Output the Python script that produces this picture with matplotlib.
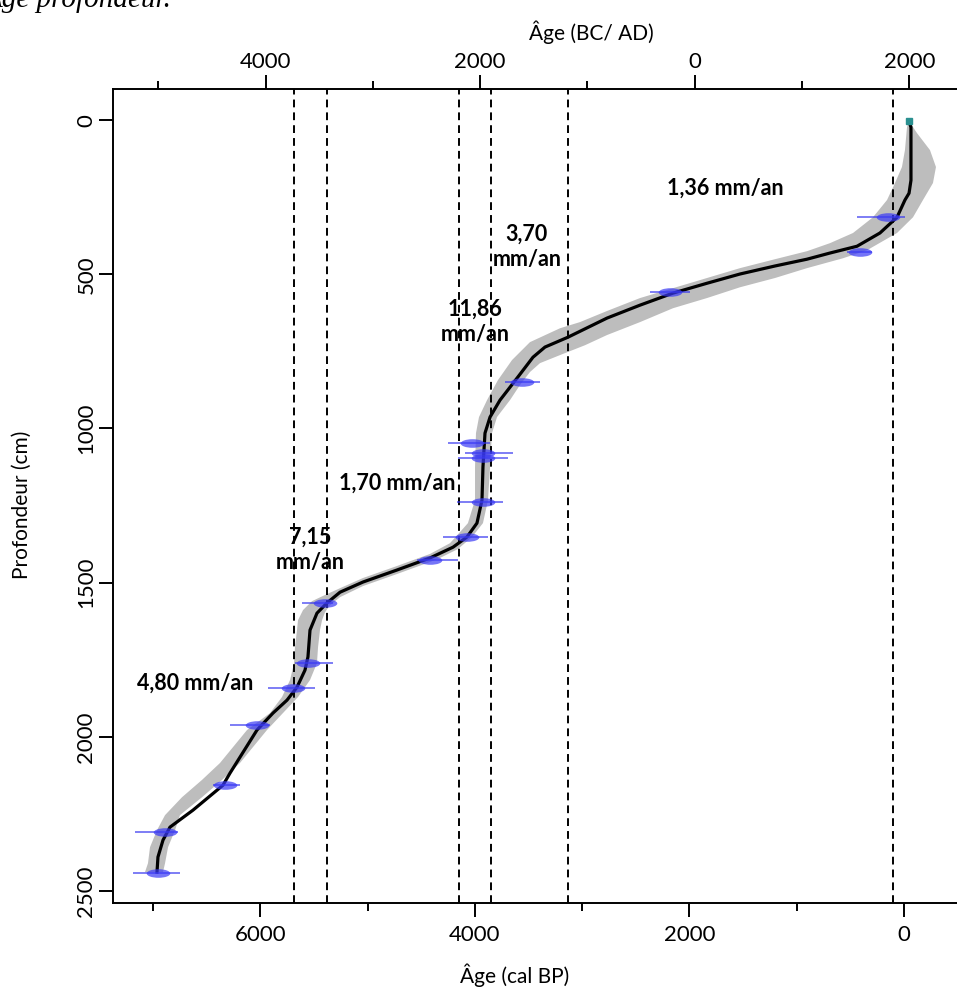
import matplotlib
matplotlib.use('Agg')
import matplotlib.pyplot as plt
from matplotlib.path import Path

plt.rcParams['font.family'] = ['Lato', 'DejaVu Sans']

# age-depth model: mean curve (cal BP / cm)
mean_age = [-47, -65, -65, -47, -9, 65, 224, 438, 690, 904, 1202, 1528, 1836, 2153, 2460,
            2768, 3132, 3346, 3458, 3607, 3765, 3858, 3905, 3924, 3933, 3980, 4073, 4203,
            4418, 4725, 5042, 5256, 5378, 5471, 5536, 5555, 5583, 5657, 5750, 5881, 6030,
            6282, 6347, 6627, 6841, 6906, 6953, 6962]
mean_depth = [3, 23, 195, 237, 259, 315, 366, 409, 431, 451, 473, 499, 529, 561, 600,
              642, 704, 736, 769, 837, 908, 963, 1015, 1125, 1232, 1307, 1352, 1385,
              1420, 1459, 1498, 1531, 1566, 1599, 1654, 1741, 1784, 1839, 1881, 1923, 1978,
              2118, 2157, 2238, 2293, 2335, 2390, 2439]

# envelope: old (upper-left) edge and young (lower-right) edge
old_age = [-47, -28, -9, 19, 84, 158, 289, 475, 690, 904, 1202, 1528, 1836, 2153, 2460,
           2768, 3020, 3206, 3486, 3653, 3784, 3886, 3961, 3989, 3998, 3998, 4064, 4138,
           4231, 4418, 4725, 5042, 5256, 5396, 5517, 5601, 5648, 5657, 5676, 5685, 5722,
           5797, 5909, 6123, 6375, 6543, 6729, 6887, 6962, 7027, 7046, 7074]
old_depth = [3, 23, 97, 152, 204, 259, 315, 366, 399, 425, 451, 480, 512, 545, 577,
             619, 655, 675, 720, 778, 843, 908, 963, 1015, 1125, 1232, 1307, 1336,
             1372, 1407, 1446, 1485, 1518, 1540, 1560, 1589, 1622, 1654, 1709, 1761, 1816,
             1871, 1923, 1978, 2085, 2140, 2196, 2254, 2303, 2358, 2410, 2439]
young_age = [-47, -121, -242, -298, -270, -177, -84, 65, 345, 569, 904, 1202, 1528, 1836,
             2153, 2460, 2768, 2973, 3206, 3392, 3486, 3579, 3672, 3793, 3840, 3858, 3877,
             3924, 4026, 4157, 4325, 4418, 4725, 5042, 5256, 5349, 5396, 5424, 5443, 5461,
             5471, 5536, 5648, 5788, 5937, 6189, 6356, 6543, 6748, 6794, 6859, 6887, 6906]
young_depth = [3, 42, 97, 152, 204, 259, 315, 366, 422, 448, 480, 512, 542, 577,
               610, 655, 697, 730, 762, 788, 817, 859, 908, 963, 1015, 1125, 1232,
               1307, 1352, 1391, 1420, 1433, 1472, 1511, 1547, 1573, 1596, 1622, 1654, 1709,
               1761, 1816, 1871, 1923, 1978, 2085, 2140, 2196, 2254, 2303, 2358, 2410, 2439]

# dated levels (calibrated median + range)
date_age = [150, 410, 2180, 3560, 4026, 3924, 3924, 3924, 4073, 4418,
            5396, 5555, 5695, 6030, 6328, 6887, 6953]
date_depth = [315, 428, 558, 850, 1047, 1080, 1096, 1239, 1352, 1427,
              1566, 1761, 1842, 1962, 2157, 2309, 2442]
date_lo = [-9, 298, 1994, 3392, 3858, 3644, 3691, 3737, 3877, 4157,
           5322, 5322, 5490, 5909, 6189, 6766, 6748]
date_hi = [438, 531, 2367, 3719, 4250, 4092, 4157, 4166, 4297, 4539,
           5611, 5676, 5928, 6282, 6440, 7167, 7186]
top_age, top_depth = -47, 3

# zone boundaries (cal BP)
zone_bounds = [5685, 5378, 4147, 3849, 3132, 103]

# accumulation rates
rate_text = ['1,36 mm/an', '3,70\nmm/an', '11,86\nmm/an', '1,70 mm/an', '7,15\nmm/an', '4,80 mm/an']
rate_age = [1668, 3514, 3998, 4725, 5536, 6608]
rate_depth = [221, 412, 655, 1177, 1394, 1826]

top_ticks = [-4000, -2000, 0, 2000]
top_labels = ['4000', '2000', '0', '2000']

fig = plt.figure(figsize=(9.57, 9.94), dpi=100)
ax = fig.add_axes([113 / 957, 1 - 903 / 994, 1 - 113 / 957, (903 - 89) / 994])

# envelope polygon
ax.fill(old_age + young_age[::-1], old_depth + young_depth[::-1],
        color='#bdbdbd', lw=0, zorder=1)
ax.plot(mean_age, mean_depth, color='black', lw=2.3, zorder=2)

for b in zone_bounds:
    ax.axvline(b, color='black', lw=1.4, dashes=(4, 2.6), zorder=3)

ell = Path.unit_circle().transformed(matplotlib.transforms.Affine2D().scale(2.2, 0.8))
xerr = [[a - l for a, l in zip(date_age, date_lo)], [h - a for a, h in zip(date_age, date_hi)]]
ax.errorbar(date_age, date_depth, xerr=xerr, fmt='none', ecolor='#3535f0', elinewidth=1.2,
            alpha=0.75, capsize=0, zorder=4)
ax.plot(date_age, date_depth, ls='none', marker=ell, ms=17, color='#3a3af5', alpha=0.7,
        mec='none', zorder=5)
ax.plot([top_age], [top_depth], ls='none', marker='s', ms=4, color='#2a9090', zorder=6)

for t, a, d in zip(rate_text, rate_age, rate_depth):
    ax.text(a, d, t, ha='center', va='center', fontsize=15.5, fontweight='bold',
            linespacing=1.25, zorder=7)

ax.set_xlim(7372, -494)
ax.set_ylim(2539, -101)
ax.set_xticks([0, 2000, 4000, 6000])
ax.set_xticks([1000, 3000, 5000, 7000], minor=True)
ax.set_yticks([0, 500, 1000, 1500, 2000, 2500])
ax.tick_params(axis='x', which='major', length=10, width=1.4, labelsize=16, pad=6)
ax.tick_params(axis='x', which='minor', length=5.5, width=1.4)
ax.tick_params(axis='y', length=10, width=1.4, labelsize=16, pad=2, labelrotation=90)
for lab in ax.get_yticklabels():
    lab.set_va('center')
ax.spines['right'].set_visible(False)
ax.spines['top'].set_visible(False)
ax.spines['left'].set_linewidth(1.4)
ax.spines['bottom'].set_linewidth(1.4)

ax2 = ax.twiny()
ax2.set_xlim(1950 - 7372, 1950 + 494)
ax2.set_xticks(top_ticks)
ax2.set_xticklabels(top_labels)
ax2.set_xticks([-5000, -3000, -1000, 1000], minor=True)
ax2.tick_params(axis='x', which='major', length=10, width=1.4, labelsize=16, pad=2)
ax2.tick_params(axis='x', which='minor', length=5.5, width=1.4)
for s in ['right', 'left', 'bottom']:
    ax2.spines[s].set_visible(False)
ax2.spines['top'].set_linewidth(1.4)

fig.text(515 / 957, 1 - 975 / 994, 'Âge (cal BP)', ha='center', va='center', fontsize=15)
fig.text(591 / 957, 1 - 32 / 994, 'Âge (BC/ AD)', ha='center', va='center', fontsize=15)
fig.text(22 / 957, 1 - 505 / 994, 'Profondeur (cm)', ha='center', va='center',
         fontsize=15, rotation=90)
fig.text(-15 / 957, 1 - 7 / 994, 'Âge profondeur.', ha='left', va='baseline',
         fontsize=21, style='italic', family=['Liberation Serif', 'DejaVu Serif'])

fig.savefig('out.png', dpi=100)
